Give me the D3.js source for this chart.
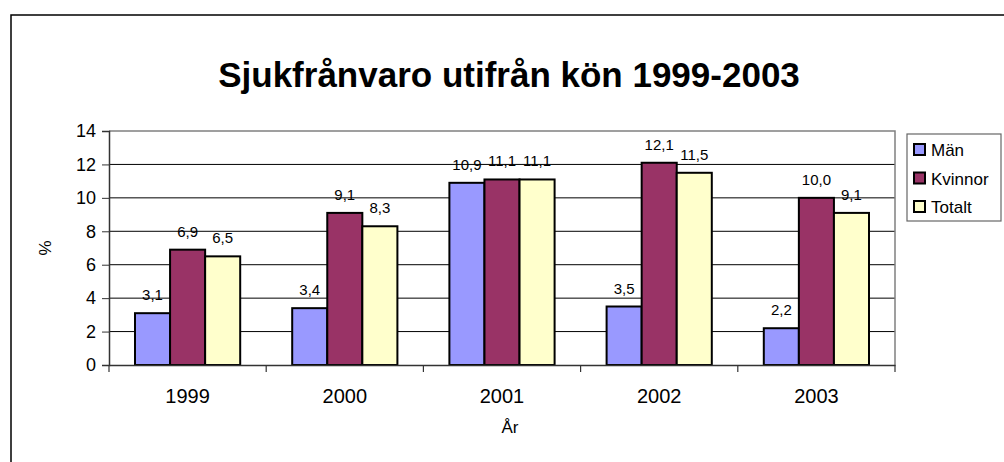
<!DOCTYPE html>
<html><head><meta charset="utf-8">
<script src="https://cdn.jsdelivr.net/npm/d3@7"></script>
<style>body{margin:0;background:#fff}svg{display:block;font-family:Arial,"Liberation Sans",sans-serif}</style>
</head><body><svg id="c" width="1004" height="462"></svg>
<script>
const years = ["1999","2000","2001","2002","2003"];
const seriesNames = ["Män","Kvinnor","Totalt"];
const man = [3.1,3.4,10.9,3.5,2.2];
const kvinnor = [6.9,9.1,11.1,12.1,10.0];
const totalt = [6.5,8.3,11.1,11.5,9.1];
const yTicks = [0,2,4,6,8,10,12,14];
const colors = ["#9999FF","#993366","#FFFFCC"];
const title = "Sjukfrånvaro utifrån kön 1999-2003";

const values = [man, kvinnor, totalt];
const svg = d3.select("#c");
const L=109,R=895,T=131,B=365;

svg.append("rect").attr("x",11).attr("y",15).attr("width",1100).attr("height",600)
  .attr("fill","#fff").attr("stroke","#000").attr("stroke-width",1.5);

svg.append("text").attr("x",509).attr("y",87).attr("text-anchor","middle")
  .attr("font-size",35).attr("font-weight","bold").text(title);

const x0 = d3.scaleBand().domain(years).range([L,R]).paddingInner(0).paddingOuter(0);
const x1 = d3.scaleBand().domain(seriesNames).range([26, x0.bandwidth()-26]);
const y = d3.scaleLinear().domain([0,14]).range([B,T]);

// gridlines
svg.append("g").selectAll("line").data(yTicks.filter(d=>d>0&&d<14)).join("line")
  .attr("x1",L).attr("x2",R).attr("y1",d=>y(d)).attr("y2",d=>y(d))
  .attr("stroke","#000").attr("stroke-width",1);
// plot border top/right
svg.append("path").attr("d",`M${L},${y(14)}H${R}V${B}`).attr("fill","none")
  .attr("stroke","#808080").attr("stroke-width",1.5);

// y axis
const ya = svg.append("g").attr("transform",`translate(${L},0)`)
  .call(d3.axisLeft(y).tickValues(yTicks).tickSize(7).tickPadding(6).tickFormat(d3.format("d")));
ya.select(".domain").attr("stroke","#333").attr("stroke-width",1.5);
ya.selectAll(".tick line").attr("stroke","#333");
ya.selectAll("text").attr("font-size",18).attr("font-family","Arial,'Liberation Sans',sans-serif").attr("fill","#000");

// bars
const g = svg.append("g");
years.forEach((yr,i)=>{
  seriesNames.forEach((s,j)=>{
    const v = values[j][i];
    g.append("rect").attr("x",x0(yr)+x1(s)).attr("y",y(v))
      .attr("width",x1.bandwidth()).attr("height",y(0)-y(v))
      .attr("fill",colors[j]).attr("stroke","#000").attr("stroke-width",2);
    g.append("text").attr("x",x0(yr)+x1(s)+x1.bandwidth()/2).attr("y",y(v)-13)
      .attr("text-anchor","middle").attr("font-size",15).text(d3.format(".1f")(v).replace(".",","));
  });
});

// x axis
const xa = svg.append("g").attr("transform",`translate(0,${B})`)
  .call(d3.axisBottom(x0).tickSize(0).tickPadding(24));
xa.select(".domain").attr("stroke","#333").attr("stroke-width",1.5);
xa.selectAll("text").attr("font-size",20).attr("font-family","Arial,'Liberation Sans',sans-serif").attr("fill","#000");
const bounds = years.map(yr=>x0(yr)).concat([R]);
svg.append("g").selectAll("line").data(bounds).join("line")
  .attr("x1",d=>d).attr("x2",d=>d).attr("y1",B).attr("y2",B+7).attr("stroke","#333").attr("stroke-width",1.2);

svg.append("text").attr("x",510).attr("y",433).attr("text-anchor","middle").attr("font-size",17).text("År");
svg.append("text").attr("transform","translate(51,248) rotate(-90)").attr("text-anchor","middle").attr("font-size",17).text("%");

// legend
svg.append("rect").attr("x",907).attr("y",134).attr("width",94).attr("height",87)
  .attr("fill","#fff").attr("stroke","#666").attr("stroke-width",1.2);
const lg = svg.append("g").selectAll("g").data(seriesNames).join("g")
  .attr("transform",(d,i)=>`translate(913,${150+i*28.5})`);
lg.append("rect").attr("x",1).attr("y",-6).attr("width",11).attr("height",11)
  .attr("fill",(d,i)=>colors[i]).attr("stroke","#000").attr("stroke-width",2);
lg.append("text").attr("x",18).attr("y",6).attr("font-size",17).text(d=>d);
</script></body></html>
